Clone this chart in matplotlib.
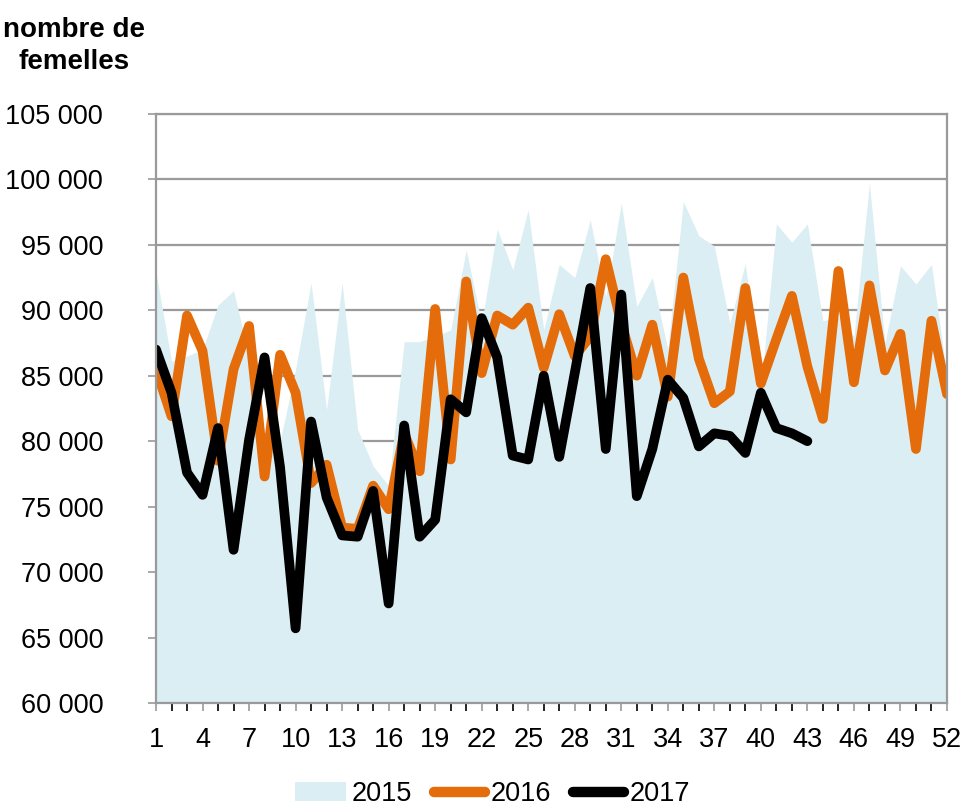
import numpy as np
import matplotlib
matplotlib.use('Agg')
import matplotlib.pyplot as plt
from matplotlib.patches import Patch
from matplotlib.lines import Line2D

plt.rcParams['font.family'] = ['Liberation Sans', 'DejaVu Sans']

weeks = np.arange(1, 53)

v2015 = [92900, 86100, 86500, 87000, 90400, 91500, 86500, 80500, 80000, 85500,
         92100, 82400, 92100, 80900, 78100, 76600, 87600, 87600, 88000, 88500,
         94600, 89000, 96200, 93100, 97700, 88500, 93500, 92500, 96900, 91000,
         98200, 90300, 92500, 87000, 98300, 95700, 94900, 89000, 93600, 84000,
         96600, 95200, 96600, 89200, 89500, 88000, 99700, 87500, 93400, 92000,
         93500, 85000]

v2016 = [85500, 81900, 89600, 86900, 78500, 85500, 88800, 77300, 86600, 83700,
         76800, 78200, 73400, 73300, 76600, 74800, 80600, 77700, 90100, 78600,
         92200, 85200, 89600, 88900, 90200, 85600, 89700, 86500, 88000, 93900,
         89000, 85000, 88900, 83400, 92500, 86300, 82900, 83800, 91700, 84400,
         87800, 91100, 85700, 81700, 93000, 84500, 91900, 85400, 88200, 79400,
         89200, 83600]

weeks2017 = np.arange(1, 44)
v2017 = [87000, 83700, 77600, 75900, 81000, 71700, 80100, 86400, 78000, 65700,
         81500, 75700, 72800, 72700, 76200, 67600, 81200, 72700, 74000, 83200,
         82200, 89400, 86400, 78900, 78600, 85000, 78800, 85200, 91700, 79400,
         91200, 75800, 79400, 84700, 83300, 79600, 80600, 80400, 79100, 83700,
         81000, 80600, 80000]

c2015 = '#DBEEF3'
c2016 = '#E46C0A'
c2017 = '#000000'
grey = '#9A9A9A'

fig = plt.figure(figsize=(9.66, 8.08), dpi=100)
ax = fig.add_axes([0.1615, 0.13, 0.8188, 0.729])

ax.fill_between(weeks, 60000, v2015, color=c2015, lw=0, zorder=2)
ax.plot(weeks, v2016, color=c2016, lw=7, solid_joinstyle='round',
        solid_capstyle='round', zorder=3)
ax.plot(weeks2017, v2017, color=c2017, lw=7, solid_joinstyle='round',
        solid_capstyle='round', zorder=4)

ax.set_xlim(1, 52)
ax.set_ylim(60000, 105000)
ax.set_yticks(np.arange(60000, 105001, 5000))
ax.set_yticklabels(['{:,}'.format(v).replace(',', ' ') for v in range(60000, 105001, 5000)])
ax.set_xticks(weeks, minor=True)
ax.set_xticks(np.arange(1, 53, 3))

ax.set_axisbelow(True)
ax.yaxis.grid(True, color=grey, lw=1.6)
for s in ax.spines.values():
    s.set_color(grey)
    s.set_linewidth(1.6)
    s.set_zorder(5)

ax.tick_params(axis='both', colors=grey, labelcolor='black', labelsize=19.5)
ax.tick_params(axis='x', which='both', length=6, width=1.2, pad=11)
ax.tick_params(axis='y', length=6, width=1.2, pad=32)
for lab in ax.get_yticklabels():
    lab.set_horizontalalignment('right')

fig.text(0.0766, 0.979, 'nombre de\nfemelles', ha='center', va='top',
         fontsize=20, fontweight='bold', linespacing=1.3)

handles = [Patch(facecolor=c2015, edgecolor='none'),
           Line2D([0], [0], color=c2016, lw=7.5, solid_capstyle='round'),
           Line2D([0], [0], color=c2017, lw=7.5, solid_capstyle='round')]
fig.legend(handles, ['2015', '2016', '2017'], loc='center',
           bbox_to_anchor=(0.51, 0.017), ncol=3, frameon=False, fontsize=19.5,
           handlelength=1.9, handletextpad=0.2, columnspacing=0.8)

fig.savefig('out.png', dpi=100)
